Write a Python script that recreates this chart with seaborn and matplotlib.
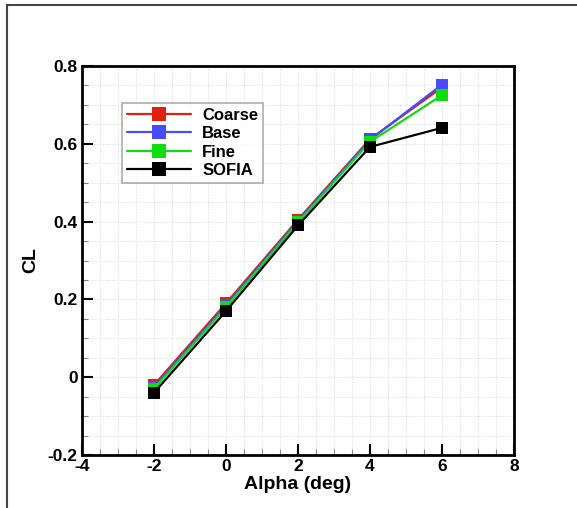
import matplotlib
matplotlib.use("Agg")
import matplotlib.pyplot as plt
import seaborn as sns
import pandas as pd
from matplotlib.lines import Line2D
from matplotlib.ticker import MultipleLocator

alpha = [-2, 0, 2, 4, 6]
coarse = [-0.020, 0.190, 0.405, 0.612, 0.745]
base = [-0.025, 0.185, 0.402, 0.610, 0.752]
fine = [-0.030, 0.180, 0.398, 0.605, 0.725]
sofia = [-0.040, 0.170, 0.390, 0.592, 0.641]
series_names = ["Coarse", "Base", "Fine", "SOFIA"]
colors = ["#e02010", "#4a4aff", "#10dd10", "#000000"]

sns.set_theme(style="white")
plt.rcParams['font.family'] = ['Liberation Sans', 'DejaVu Sans']
plt.rcParams['text.color'] = 'black'
plt.rcParams['axes.labelcolor'] = 'black'
plt.rcParams['xtick.color'] = 'black'
plt.rcParams['ytick.color'] = 'black'

rows = []
for name, vals in zip(series_names, [coarse, base, fine, sofia]):
    for a, v in zip(alpha, vals):
        rows.append({"Alpha": a, "CL": v, "series": name})
df = pd.DataFrame(rows)

fig = plt.figure(figsize=(5.77, 5.08), dpi=100)
ax = fig.add_axes([0.1421, 0.1043, 0.7487, 0.7658])

palette = dict(zip(series_names, colors))
for name in series_names:
    sub = df[df.series == name]
    sns.lineplot(data=sub, x="Alpha", y="CL", color=palette[name], marker="s",
                 markersize=9, markeredgewidth=0, linewidth=1.6, ax=ax, legend=False)

ax.set_xlim(-4, 8)
ax.set_ylim(-0.2, 0.8)
ax.xaxis.set_major_locator(MultipleLocator(2))
ax.xaxis.set_minor_locator(MultipleLocator(0.5))
ax.yaxis.set_major_locator(MultipleLocator(0.2))
ax.yaxis.set_minor_locator(MultipleLocator(0.05))
ax.set_xticks([-4, -2, 0, 2, 4, 6, 8])
ax.set_xticklabels(["-4", "-2", "0", "2", "4", "6", "8"])
ax.set_yticks([-0.2, 0, 0.2, 0.4, 0.6, 0.8])
ax.set_yticklabels(["-0.2", "0", "0.2", "0.4", "0.6", "0.8"])
ax.grid(which="both", color="#e2e2e2", linestyle=(0, (1.5, 1.5)), linewidth=0.7)
ax.set_axisbelow(True)
ax.tick_params(which="major", direction="in", length=8, width=1.5, color="black",
               labelsize=12.5, labelcolor="black", pad=3, bottom=True, left=True)
ax.tick_params(which="minor", direction="in", length=4, width=0.8, color="#888888",
               bottom=True, left=True)
for lab in ax.get_xticklabels() + ax.get_yticklabels():
    lab.set_fontweight("bold")
for sp in ax.spines.values():
    sp.set_linewidth(2)
    sp.set_color("black")
ax.set_xlabel("Alpha (deg)", fontsize=14, fontweight="bold", labelpad=1, color="black")
ax.set_ylabel("CL", fontsize=14, fontweight="bold", labelpad=6, color="black")

handles = [Line2D([0], [0], color=c, marker="s", markersize=10, markeredgewidth=0,
                  linewidth=1.6) for c in colors]
leg = ax.legend(handles, series_names, loc="upper left", bbox_to_anchor=(0.093, 0.905),
                handlelength=3.8, fontsize=12, frameon=True, fancybox=False,
                borderpad=0.3, labelspacing=0.2, handletextpad=0.7, borderaxespad=0)
leg.get_frame().set_edgecolor("#999999")
leg.get_frame().set_linewidth(1.2)
for t in leg.get_texts():
    t.set_fontweight("bold")
    t.set_color("black")

# outer frame (top and left edges)
fig.add_artist(Line2D([0.0121, 1.0], [0.990, 0.990], color="#444444", linewidth=1.5,
                      transform=fig.transFigure))
fig.add_artist(Line2D([0.0121, 0.0121], [0.0, 0.990], color="#444444", linewidth=1.5,
                      transform=fig.transFigure))

fig.savefig("out.png", dpi=100)
